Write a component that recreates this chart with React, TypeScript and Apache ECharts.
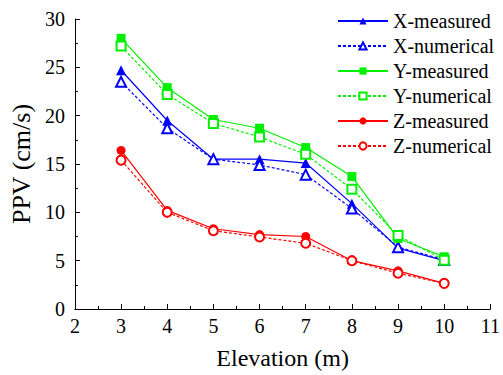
import React, { useEffect, useRef } from "react";
import * as echarts from "echarts";

const elevations = [3, 4, 5, 6, 7, 8, 9, 10];
const xMeasured = [24.7, 19.5, 15.5, 15.5, 15.1, 10.9, 6.3, 5.0];
const xNumerical = [23.5, 18.7, 15.5, 14.9, 13.9, 10.4, 6.4, 5.1];
const yMeasured = [28.0, 22.9, 19.6, 18.7, 16.7, 13.7, 7.3, 5.4];
const yNumerical = [27.2, 22.2, 19.2, 17.8, 16.0, 12.4, 7.6, 5.05];
const zMeasured = [16.4, 10.2, 8.3, 7.7, 7.5, 5.0, 3.95, 2.65];
const zNumerical = [15.4, 10.0, 8.1, 7.45, 6.8, 5.0, 3.7, 2.65];

const FONT = "'Liberation Serif', 'Times New Roman', serif";

function mk(name: string, data: number[], color: string, symbol: string, dashed: boolean) {
  return {
    name,
    type: "line",
    data: elevations.map((e, i) => [e, data[i]]),
    symbol,
    symbolSize: symbol.toLowerCase().includes("triangle") ? 10 : 9,
    itemStyle: { color, borderWidth: 1.2 },
    lineStyle: { color, width: 1.2, type: dashed ? [3, 2] : "solid" },
    emphasis: { disabled: true },
  };
}

export default function App() {
  const ref = useRef<HTMLDivElement>(null);
  useEffect(() => {
    const chart = echarts.init(ref.current!, null, { renderer: "svg" });
    chart.setOption({
      animation: false,
      textStyle: { fontFamily: FONT },
      grid: { left: 71, right: 8, top: 19, bottom: 65 },
      legend: {
        orient: "vertical",
        left: 332,
        top: 6,
        itemWidth: 50,
        itemHeight: 9,
        itemGap: 5,
        textStyle: { fontFamily: FONT, fontSize: 20, lineHeight: 20, color: "#000" },
        data: ["X-measured", "X-numerical", "Y-measured", "Y-numerical", "Z-measured", "Z-numerical"],
      },
      xAxis: {
        type: "value",
        min: 2,
        max: 11,
        interval: 1,
        name: "Elevation (m)",
        nameLocation: "middle",
        nameGap: 37,
        nameTextStyle: { fontFamily: FONT, fontSize: 24, color: "#000" },
        axisLine: { lineStyle: { color: "#000", width: 1 } },
        axisTick: { inside: true, length: 5, lineStyle: { color: "#000" } },
        minorTick: { show: true, splitNumber: 2, length: 3, lineStyle: { color: "#000" } },
        axisLabel: { fontFamily: FONT, fontSize: 20, color: "#000", margin: 7 },
        splitLine: { show: false },
      },
      yAxis: {
        type: "value",
        min: 0,
        max: 30,
        interval: 5,
        name: "PPV (cm/s)",
        nameLocation: "middle",
        nameGap: 34,
        nameTextStyle: { fontFamily: FONT, fontSize: 26, color: "#000" },
        axisLine: { show: true, lineStyle: { color: "#000", width: 1 } },
        axisTick: { show: true, inside: true, length: 5, lineStyle: { color: "#000" } },
        minorTick: { show: true, splitNumber: 2, length: 3, lineStyle: { color: "#000" } },
        axisLabel: { fontFamily: FONT, fontSize: 20, color: "#000", margin: 10 },
        splitLine: { show: false },
      },
      series: [
        mk("X-measured", xMeasured, "#0000ff", "triangle", false),
        mk("X-numerical", xNumerical, "#0000ff", "emptyTriangle", true),
        mk("Y-measured", yMeasured, "#00f000", "rect", false),
        mk("Y-numerical", yNumerical, "#00f000", "emptyRect", true),
        mk("Z-measured", zMeasured, "#ff0000", "circle", false),
        mk("Z-numerical", zNumerical, "#ff0000", "emptyCircle", true),
      ],
    });
    return () => chart.dispose();
  }, []);
  return <div ref={ref} style={{ width: 503, height: 375, position: "absolute", left: 0, top: 0 }} />;
}
